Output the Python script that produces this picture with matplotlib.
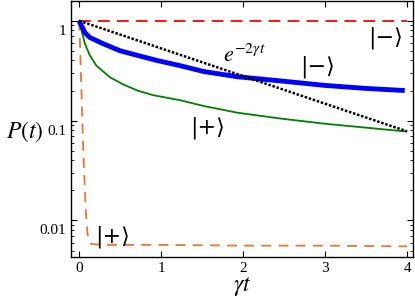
import numpy as np
import matplotlib.pyplot as plt
import matplotlib.transforms as mtransforms

plt.rcParams['font.family'] = ['Liberation Serif', 'DejaVu Serif']
plt.rcParams['mathtext.fontset'] = 'stix'

# datos
t_minus_top = [0.0, 4.0]
p_minus_top = [1.0, 1.0]

t_plus_bot = [0.0, 0.01, 0.024, 0.05, 0.07, 0.085, 0.1, 0.12, 0.15, 0.3, 1.0, 2.0, 3.0, 4.0]
p_plus_bot = [1.0, 0.6, 0.25, 0.05, 0.02, 0.011, 0.0075, 0.0062, 0.0058, 0.0057, 0.0057, 0.0056, 0.0056, 0.0055]

t_blue = [0.0, 0.01, 0.03, 0.07, 0.13, 0.29, 0.5, 0.71, 0.95, 1.23, 1.52, 1.93, 2.45, 3.0, 3.5, 3.97]
p_blue = [1.0, 0.95, 0.89, 0.76, 0.68, 0.59, 0.5, 0.45, 0.40, 0.355, 0.31, 0.275, 0.25, 0.225, 0.21, 0.20]

t_green = [0.0, 0.01, 0.03, 0.07, 0.13, 0.21, 0.38, 0.54, 0.71, 0.9, 1.23, 1.52, 1.93, 2.45, 3.0, 3.5, 3.97]
p_green = [1.0, 0.9, 0.79, 0.59, 0.45, 0.355, 0.27, 0.23, 0.2, 0.18, 0.16, 0.14, 0.12, 0.105, 0.093, 0.085, 0.078]

t_exp = [0.0, 4.0]
p_exp = [1.0, 0.078]

fig = plt.figure(figsize=(4.15, 3.0), dpi=100)
ax = fig.add_axes([0.171, 0.143, 0.824, 0.854])

ax.plot(t_minus_top, p_minus_top, color='red', lw=1.3, ls=(0, (6.5, 4)))
ax.plot(t_plus_bot, p_plus_bot, color='#E07A35', lw=1.3, ls=(0, (5.5, 4)))
ax.plot(t_green, p_green, color='#007F00', lw=1.3)
ax.plot(t_blue, p_blue, color='blue', lw=3.5, solid_capstyle='butt')
ax.plot(t_exp, p_exp, color='black', lw=1.8, ls=(0, (1, 0.7)))

ax.set_yscale('log')
ax.set_xlim(-0.1, 4.07)
ax.set_ylim(0.0043, 1.58)
ax.set_xticks([0, 1, 2, 3, 4])
ax.set_yticks([1, 0.1, 0.01])
ax.set_yticklabels(['1', '0.1', '0.01'])
ax.tick_params(which='both', direction='in', top=True, right=True, labelsize=11)
ax.tick_params(which='major', length=4)
ax.tick_params(which='minor', length=2.5)

off = mtransforms.ScaledTranslation(0, -9 / 100, fig.dpi_scale_trans)
for lab in ax.get_yticklabels():
    lab.set_transform(lab.get_transform() + off)

ax.set_xlabel(r'$\gamma t$', fontsize=17, labelpad=0)
ax.set_ylabel(r'$P(t)$', fontsize=17, rotation=0, ha='center', va='center')
ax.yaxis.set_label_coords(-0.135, 0.49)

ket_font = ['DejaVu Serif', 'DejaVu Sans']
ax.text(2.01, 0.45, r'$e^{-2\gamma t}$', fontsize=16, ha='center', va='center')
ax.text(2.91, 0.35, '|\u2212\u27e9', fontsize=16, family=ket_font, ha='center', va='center')
ax.text(3.73, 0.68, '|\u2212\u27e9', fontsize=16, family=ket_font, ha='center', va='center')
ax.text(1.57, 0.085, '|+\u27e9', fontsize=16, family=ket_font, ha='center', va='center')
ax.text(0.41, 0.0068, '|+\u27e9', fontsize=16, family=ket_font, ha='center', va='center')

for s in ax.spines.values():
    s.set_linewidth(1.0)

fig.savefig('out.png', dpi=100)
